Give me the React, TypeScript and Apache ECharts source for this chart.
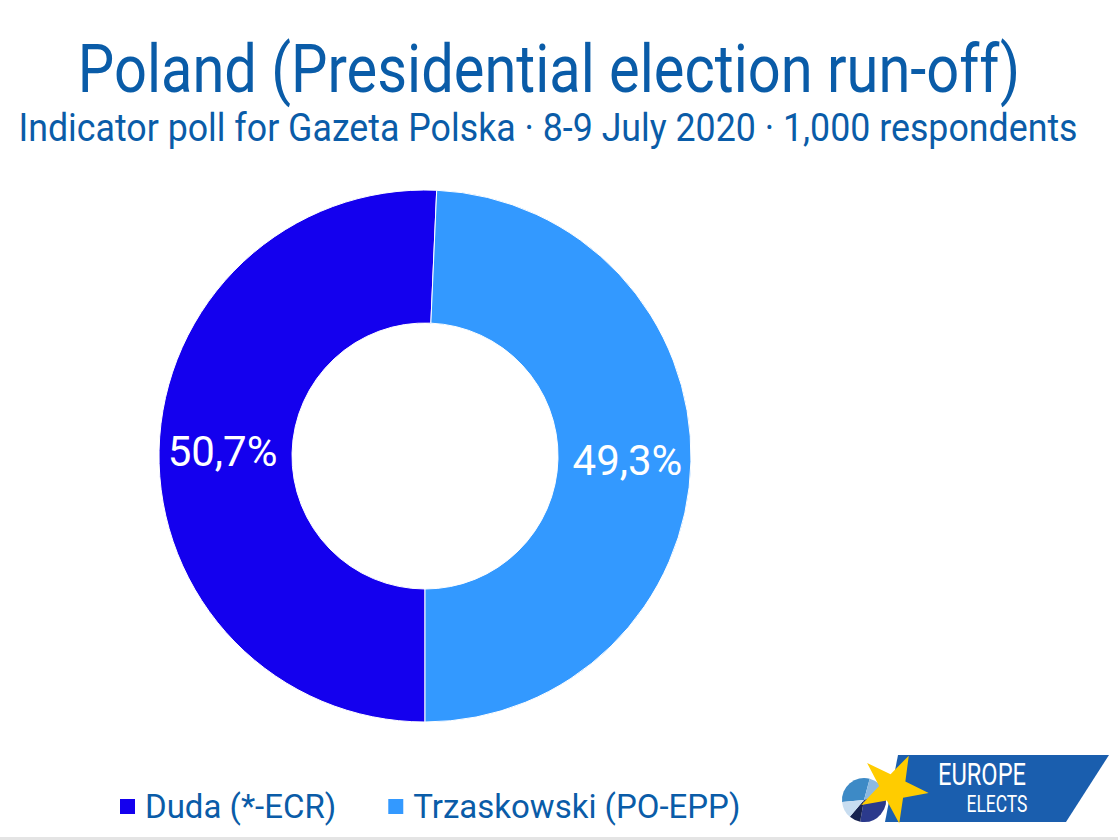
import React, { useEffect, useRef } from 'react';
import * as echarts from 'echarts';

const TITLE = 'Poland (Presidential election run-off)';
const SUBTITLE = 'Indicator poll for Gazeta Polska · 8-9 July 2020 · 1,000 respondents';
const CANDIDATES = ['Duda (*-ECR)', 'Trzaskowski (PO-EPP)'];
const SHARES = [50.7, 49.3];
const COLORS = ['#1400EE', '#3399FF'];

const TEXT_BLUE = '#0A5CA8';
const FONT = 'Roboto';

function measure(text: string, font: string): number {
  const ctx = document.createElement('canvas').getContext('2d');
  if (!ctx) return text.length * 10;
  ctx.font = font;
  return ctx.measureText(text).width;
}

function fitText(text: string, size: number, target: number, weight = 'normal') {
  const w = measure(text, `${weight} ${size}px ${FONT}`);
  return target / w;
}

function starPoints(cx: number, cy: number, R: number, r: number, rotDeg: number) {
  const pts: number[][] = [];
  for (let i = 0; i < 10; i++) {
    const ang = ((rotDeg - 90 + i * 36) * Math.PI) / 180;
    const rad = i % 2 === 0 ? R : r;
    pts.push([cx + rad * Math.cos(ang), cy + rad * Math.sin(ang)]);
  }
  return pts;
}

export default function App() {
  const ref = useRef<HTMLDivElement>(null);
  useEffect(() => {
    if (!ref.current) return;
    const chart = echarts.init(ref.current, undefined, { renderer: 'svg' });
    const titleScale = fitText(TITLE, 66, 942);
    const subScale = fitText(SUBTITLE, 38, 1060);
    const euroScale = fitText('EUROPE', 32, 88);
    const electsScale = fitText('ELECTS', 24, 61);

    const deg = (d: number) => (d * Math.PI) / 180;
    const miniPie = [
      { s: 175, e: 285, c: '#3D8AC6' },
      { s: 285, e: 340, c: '#8CB9E0' },
      { s: 340, e: 460, c: '#2B3A8C' },
      { s: 100, e: 130, c: '#17224F' },
      { s: 130, e: 175, c: '#C8DDF0' },
    ];

    chart.setOption({
      animation: false,
      backgroundColor: '#ffffff',
      legend: {
        data: CANDIDATES,
        left: 113,
        top: 785,
        icon: 'rect',
        itemWidth: 17,
        itemHeight: 17,
        itemGap: 50,
        selectedMode: false,
        textStyle: {
          color: TEXT_BLUE,
          fontSize: 33,
          fontFamily: FONT,
          padding: [0, 0, 0, 4],
        },
      },
      series: [
        {
          type: 'pie',
          center: [425, 456],
          radius: [133, 266],
          startAngle: 270,
          clockwise: true,
          silent: true,
          itemStyle: { borderColor: '#ffffff', borderWidth: 1 },
          label: {
            show: true,
            position: 'inside',
            color: '#ffffff',
            fontSize: 42,
            fontFamily: FONT,
            formatter: (p: any) => `${String(p.value).replace('.', ',')}%`,
          },
          labelLine: { show: false },
          data: CANDIDATES.map((name, i) => ({
            name,
            value: SHARES[i],
            itemStyle: { color: COLORS[i] },
          })),
        },
      ],
      graphic: [
        {
          type: 'text',
          x: 549,
          y: 69,
          scaleX: titleScale,
          style: {
            text: TITLE,
            x: 0,
            y: 0,
            align: 'center',
            verticalAlign: 'middle',
            textAlign: 'center',
            textVerticalAlign: 'middle',
            fontSize: 66,
            fontFamily: FONT,
            fill: TEXT_BLUE,
          },
        },
        {
          type: 'text',
          x: 548,
          y: 128,
          scaleX: subScale,
          style: {
            text: SUBTITLE,
            x: 0,
            y: 0,
            align: 'center',
            verticalAlign: 'middle',
            textAlign: 'center',
            textVerticalAlign: 'middle',
            fontSize: 38,
            fontFamily: FONT,
            fill: TEXT_BLUE,
          },
        },
        {
          type: 'rect',
          shape: { x: 0, y: 837, width: 1118, height: 3 },
          style: { fill: '#E4E4E4' },
        },
        {
          type: 'polygon',
          shape: { points: [[898, 755], [1109, 755], [1066, 822], [885, 822]] },
          style: { fill: '#1A5EAE' },
        },
        ...miniPie.map((p) => ({
          type: 'sector',
          shape: { cx: 864, cy: 800, r: 22, r0: 0, startAngle: deg(p.s), endAngle: deg(p.e), clockwise: true },
          style: { fill: p.c },
        })),
        {
          type: 'polygon',
          shape: { points: starPoints(893, 788, 36, 14, 26) },
          style: { fill: '#FFCC00' },
        },
        {
          type: 'text',
          x: 982,
          y: 774,
          scaleX: euroScale,
          style: {
            text: 'EUROPE',
            x: 0,
            y: 0,
            align: 'center',
            verticalAlign: 'middle',
            textAlign: 'center',
            textVerticalAlign: 'middle',
            fontSize: 32,
            fontFamily: FONT,
            fill: '#ffffff',
          },
        },
        {
          type: 'text',
          x: 997,
          y: 804,
          scaleX: electsScale,
          style: {
            text: 'ELECTS',
            x: 0,
            y: 0,
            align: 'center',
            verticalAlign: 'middle',
            textAlign: 'center',
            textVerticalAlign: 'middle',
            fontSize: 24,
            fontFamily: FONT,
            fill: '#ffffff',
          },
        },
      ],
    });
    return () => chart.dispose();
  }, []);
  return (
    <div
      ref={ref}
      style={{ position: 'fixed', left: 0, top: 0, width: 1118, height: 840 }}
    />
  );
}
